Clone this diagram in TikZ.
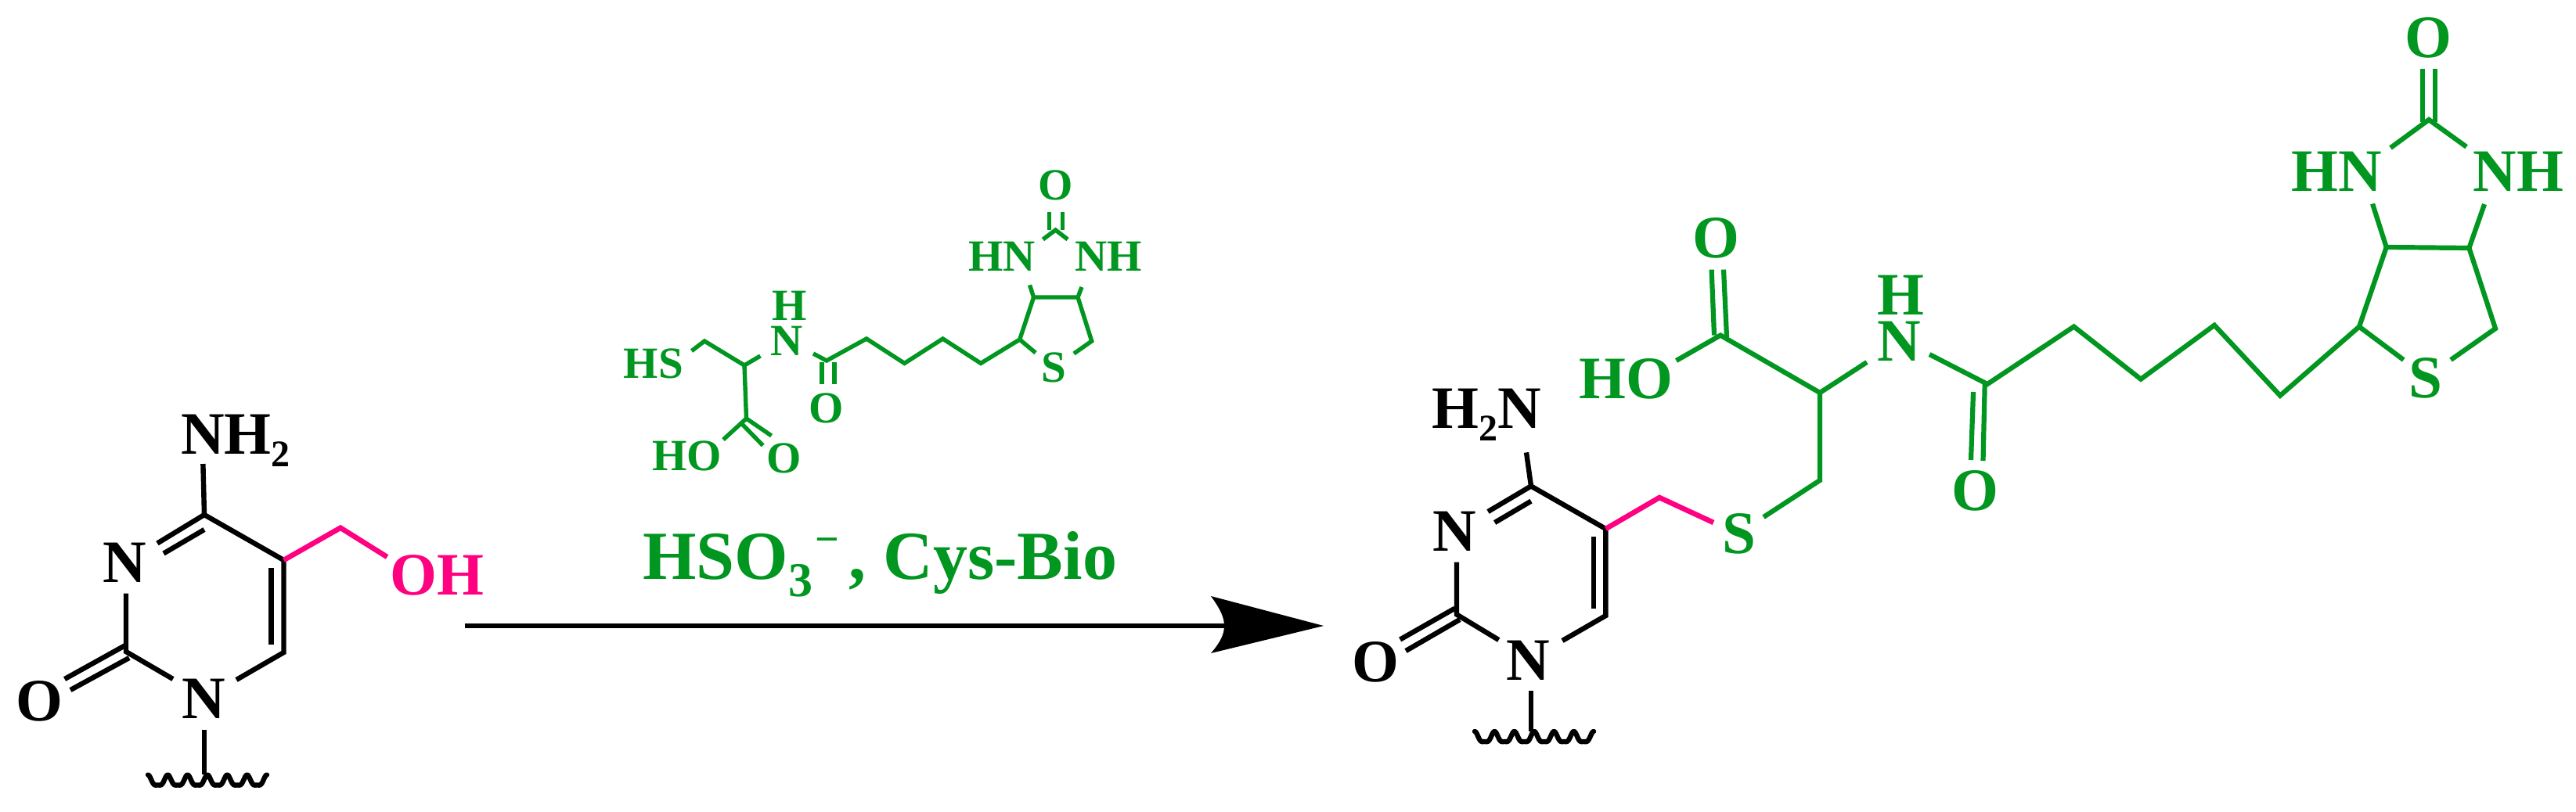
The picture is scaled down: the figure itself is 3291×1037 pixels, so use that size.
\documentclass[tikz,border=0pt]{standalone}
\usepackage{fontspec}
\setmainfont{Liberation Serif}
\definecolor{chemgreen}{RGB}{0,150,32}
\definecolor{chempink}{RGB}{255,0,128}
\tikzset{
  x=1pt,y=-1pt,
  bondk/.style={draw=black,line width=6.4pt,line join=miter},
  bondp/.style={draw=chempink,line width=6.6pt,line join=miter},
  bondg/.style={draw=chemgreen,line width=6.2pt,line join=miter},
  bonds/.style={draw=chemgreen,line width=5.4pt,line join=miter},
  labk/.style={inner sep=0pt,text=black,font=\fontsize{77}{77}\selectfont\bfseries},
  labg/.style={inner sep=0pt,text=chemgreen,font=\fontsize{77}{77}\selectfont\bfseries},
  labp/.style={inner sep=0pt,text=chempink,font=\fontsize{77}{77}\selectfont\bfseries},
  labs/.style={inner sep=0pt,text=chemgreen,font=\fontsize{57}{57}\selectfont\bfseries},
  labr/.style={inner sep=0pt,text=chemgreen,font=\fontsize{88}{88}\selectfont\bfseries},
  wavyline/.pic={\draw[black,line width=6.4pt,line cap=round,line join=round] plot[domain=0:152,samples=181,smooth] (\x,{-6.5*cos(\x/25.33*360)-2*cos(\x/25.33*720)});}
}
\newcommand{\subk}[1]{\raisebox{-16pt}{\fontsize{48}{48}\selectfont #1}}
\begin{document}
\begin{tikzpicture}
\useasboundingbox[fill=white] (0,0) rectangle (3291,1037);
% ---- coordinates
\foreach \n/\px/\py in {
 % left molecule
 la4/261/658, la5/362.5/716, la6/362.5/834, la2/161/833,
 lnh/259.4/593, ln3o/201/694.5, ln3ia/261/677, ln3ib/209/707.5, ln3d/161/758.6,
 loa/160/825, lob/82.6/868, loc/165/841, lod/90/882,
 ln1l/221/868, ln1r/302/869, lia/346.4/726, lib/346.4/823.6,
 lch/435/674.7, loh/494.6/712, lnd/261/933, lne/261/990,
 % arrow
 arra/594/800, arrb/1565/800, arrt/1691/800, arru/1547/762, arrl/1547/835, arrm/1564/800,
 % right molecule
 ra4/1956/621.4, ra5/2051.4/676, ra6/2051.4/787, ra2/1861/785.5,
 rnh/1950/578.4, rn3o/1901/654, rn3ia/1956/640.6, rn3ib/1909.6/668, rn3d/1861/718.7,
 roa/1858.6/777.7, rob/1788.7/817.5, roc/1865/792, rod/1796/832,
 rn1l/1914.7/818, rn1r/1996/819, ria/2036/686, rib/2036/777.7,
 rch/2120/636, rse/2189/668, rnd/1956/883, rne/1956/935,
 % right green
 gs/2253/661, gb/2325/614, gc/2325/502, gd/2198/428.6, gho/2141.5/461,
 goa/2186.6/344.6, gob/2190/428.6, goc/2202/344.6, god/2206/431,
 gne/2385/463, gnf/2465/453, gam/2539/491,
 gaa/2535.7/491, gab/2533.5/589, gac/2521/501, gad/2518/588,
 g1/2649.5/417.5, g2/2735/484.7, g3/2829/415.7, g4/2913/505.7, g5/3014/417.6,
 g6/3048.7/316, g7/3154.4/317, g8/3188/420, g9/3131/460, g10/3070.7/460,
 g11/3031/260.5, g12/3174/261, g13/3103/153, g14/3054/189, g15/3151/187.7,
 g16/3095/88, g17/3095/156, g18/3111/88, g19/3111/156,
 % small molecule
 s1/883.6/448.6, s2/900/436, s3/951/467, s4/971.4/455, s5/953.5/535, s6/924/562,
 s7/985.6/557, s8/946/540, s9/974.7/569.5,
 s10/1039/452, s11/1056/461, s12/1050/463, s13/1050/491, s14/1066/463, s15/1066/491,
 s16/1107/433, s17/1155.5/464.4, s18/1204.5/433, s19/1253/464.4, s20/1302.7/434,
 s21/1320.6/380, s22/1377/380, s23/1394.7/436, s24/1372/452, s25/1323/451,
 s26/1315.5/364.4, s27/1382/367, s28/1348.5/294, s29/1332.4/306, s30/1364/306,
 s31/1340.5/271, s32/1340.5/294, s33/1357.4/271, s34/1357.4/294
}{\coordinate (\n) at (\px,\py);}
% ---- left molecule
\draw[bondk] (lnh)--(la4)--(la5)--(la6)--(ln1r);
\draw[bondk] (la4)--(ln3o);
\draw[bondk] (ln3ia)--(ln3ib);
\draw[bondk] (ln3d)--(la2)--(ln1l);
\draw[bondk] (loa)--(lob);
\draw[bondk] (loc)--(lod);
\draw[bondk] (lia)--(lib);
\draw[bondk] (lnd)--(lne);
\draw[bondp] (la5)--(lch)--(loh);
\pic at (189,999) {wavyline};
\node[labk,anchor=base west] (lnh2) at (231,580.5) {NH\subk{2}};
\node[labk] (ln3) at (159,719) {N};
\node[labk] (ln1) at (260,893) {N};
\node[labk] (lo) at (50,896) {O};
\node[labp] (loh2) at (558.5,735) {OH};
% ---- arrow
\draw[black,line width=6pt] (arra)--(arrb);
\fill[black] (arrt)--(arru) .. controls (1560,780) and (1564,790) .. (arrm) .. controls (1564,810) and (1560,820) .. (arrl)--cycle;
% ---- reagent
\node[labr,anchor=base west] (reag) at (821,740) {HSO\raisebox{-22pt}{\fontsize{62}{62}\selectfont 3}\kern3pt\raisebox{33pt}{\fontsize{54}{54}\selectfont −}\kern13pt, Cys-Bio};
% ---- small molecule
\draw[bonds] (s1)--(s2)--(s3)--(s4);
\draw[bonds] (s3)--(s5)--(s6);
\draw[bonds] (s5)--(s7);
\draw[bonds] (s8)--(s9);
\draw[bonds] (s10)--(s11)--(s16)--(s17)--(s18)--(s19)--(s20)--(s21)--(s22)--(s23)--(s24);
\draw[bonds] (s20)--(s25);
\draw[bonds] (s12)--(s13);
\draw[bonds] (s14)--(s15);
\draw[bonds] (s26)--(s21);
\draw[bonds] (s27)--(s22);
\draw[bonds] (s29)--(s28)--(s30);
\draw[bonds] (s31)--(s32);
\draw[bonds] (s33)--(s34);
\node[labs] (shs) at (835,465) {HS};
\node[labs] (snh) at (1005.4,436) {N};
\node[labs] (shh) at (1009,391) {H};
\node[labs] (sho) at (877.5,583) {HO};
\node[labs] (so1) at (1002,585.6) {O};
\node[labs] (so2) at (1056,521.6) {O};
\node[labs] (sss) at (1346,469.5) {S};
\node[labs] (shn) at (1280,328) {HN};
\node[labs] (snh2) at (1416.5,328) {NH};
\node[labs] (so3) at (1348.5,236.5) {O};
% ---- right molecule
\draw[bondk] (rnh)--(ra4)--(ra5)--(ra6)--(rn1r);
\draw[bondk] (ra4)--(rn3o);
\draw[bondk] (rn3ia)--(rn3ib);
\draw[bondk] (rn3d)--(ra2)--(rn1l);
\draw[bondk] (roa)--(rob);
\draw[bondk] (roc)--(rod);
\draw[bondk] (ria)--(rib);
\draw[bondk] (rnd)--(rne);
\draw[bondp] (ra5)--(rch)--(rse);
\pic at (1884,943.5) {wavyline};
\node[labk,anchor=base west] (rh2n) at (1829.5,547.5) {H\subk{2}N};
\node[labk] (rn3) at (1858.6,679) {N};
\node[labk] (rn1) at (1952,844) {N};
\node[labk] (ro) at (1757,846) {O};
% ---- right green part
\draw[bondg] (gs)--(gb)--(gc)--(gd)--(gho);
\draw[bondg] (goa)--(gob);
\draw[bondg] (goc)--(god);
\draw[bondg] (gc)--(gne);
\draw[bondg] (gnf)--(gam)--(g1)--(g2)--(g3)--(g4)--(g5)--(g6)--(g7)--(g8)--(g9);
\draw[bondg] (g5)--(g10);
\draw[bondg] (gaa)--(gab);
\draw[bondg] (gac)--(gad);
\draw[bondg] (g11)--(g6);
\draw[bondg] (g12)--(g7);
\draw[bondg] (g14)--(g13)--(g15);
\draw[bondg] (g16)--(g17);
\draw[bondg] (g18)--(g19);
\node[labg] (gS1) at (2222,682.5) {S};
\node[labg] (gO1) at (2192,304.5) {O};
\node[labg] (gHO) at (2077,484.5) {HO};
\node[labg] (gN1) at (2426.6,436.7) {N};
\node[labg] (gH1) at (2428,377) {H};
\node[labg] (gO2) at (2523,627) {O};
\node[labg] (gS2) at (3099,483.5) {S};
\node[labg] (gHN) at (2985.6,219) {HN};
\node[labg] (gNH) at (3217.5,219) {NH};
\node[labg] (gO3) at (3102.4,48) {O};
\end{tikzpicture}
\end{document}
